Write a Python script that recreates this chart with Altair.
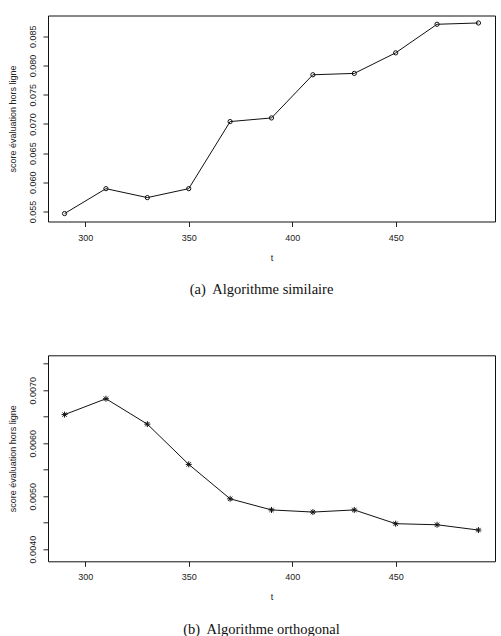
import altair as alt
import pandas as pd

t_values = [290, 310, 330, 350, 370, 390, 410, 430, 450, 470, 490]
score_similaire = [0.05466, 0.05892, 0.05739, 0.05892, 0.07040, 0.07102,
                   0.07841, 0.07864, 0.08216, 0.08705, 0.08727]
score_orthogonal = [0.00654, 0.00684, 0.00636, 0.00560, 0.00495, 0.00474,
                    0.00470, 0.00474, 0.00448, 0.00446, 0.00436]

x_ticks = [300, 350, 400, 450]
y_ticks_a = [0.055, 0.060, 0.065, 0.070, 0.075, 0.080, 0.085]
y_ticks_b = [0.0040, 0.0045, 0.0050, 0.0055, 0.0060, 0.0065, 0.0070, 0.0075]
y_labels_b = ["0.0040", "0.0050", "0.0060", "0.0070"]

caption_a = "(a)\u00a0 Algorithme similaire"
caption_b = "(b)\u00a0 Algorithme orthogonal"

W, H = 447, 206
FONT = "Liberation Sans"
TXT = "#222222"

ASTERISK = ("M-1,0L1,0M0,-1L0,1M-0.72,-0.72L0.72,0.72M-0.72,0.72L0.72,-0.72")


def panel(values, y_domain, y_ticks, y_format, label_expr, shape, size, filled, caption):
    df = pd.DataFrame({"t": t_values, "score": values})
    x = alt.X("t:Q", scale=alt.Scale(domain=[282, 498], nice=False, zero=False),
              axis=alt.Axis(values=x_ticks, title="t", grid=False, domain=False,
                            tickSize=5, tickColor=TXT, labelFont=FONT, labelFontSize=9,
                            labelColor=TXT, labelBaseline="middle", labelPadding=10.5,
                            titleFont=FONT, titleFontSize=9, titleFontWeight="normal",
                            titleColor=TXT, titleX=W / 2, titleY=35.5,
                            titleBaseline="middle", titleAlign="center"))
    axis_kw = dict(values=y_ticks, format=y_format, title="score évaluation hors ligne",
                   grid=False, domain=False, tickSize=5, tickColor=TXT,
                   labelFont=FONT, labelFontSize=9, labelColor=TXT, labelAngle=270,
                   labelAlign="center", labelBaseline="middle", labelPadding=10.2,
                   titleFont=FONT, titleFontSize=9, titleFontWeight="normal",
                   titleColor=TXT, titleAngle=270, titleX=-35.2, titleY=H / 2,
                   titleBaseline="middle", titleAlign="center")
    if label_expr:
        axis_kw["labelExpr"] = label_expr
    y = alt.Y("score:Q", scale=alt.Scale(domain=y_domain, nice=False, zero=False),
              axis=alt.Axis(**axis_kw))
    base = alt.Chart(df).encode(x=x, y=y)
    line = base.mark_line(color="#111111", strokeWidth=1)
    pts = base.mark_point(shape=shape, size=size, filled=filled, color="#111111",
                          strokeWidth=1, opacity=1)
    return alt.layer(line, pts).properties(
        width=W, height=H,
        title=alt.TitleParams(caption, orient="bottom", font="Liberation Serif",
                              fontSize=14.5, fontWeight="normal", color="#111111",
                              offset=21, dx=-10, anchor="middle"))


top = panel(score_similaire, [0.0533, 0.08855], y_ticks_a, ".3f", None,
            "circle", 18, False, caption_a)
label_list = "[" + ",".join("'" + s + "'" for s in y_labels_b) + "]"
bottom = panel(score_orthogonal, [0.00377, 0.00766], y_ticks_b, ".4f",
               "indexof(" + label_list + ", datum.label) >= 0 ? datum.label : ''",
               ASTERISK, 36, False, caption_b)

chart = alt.vconcat(top, bottom, spacing=133.8).properties(
    bounds="flush",
    padding={"left": 8, "top": 14.5, "right": 5, "bottom": 5},
    background="white",
).configure_view(stroke="#111111", strokeWidth=1)

chart.save("out.html", embed_options={"renderer": "svg", "actions": False})
